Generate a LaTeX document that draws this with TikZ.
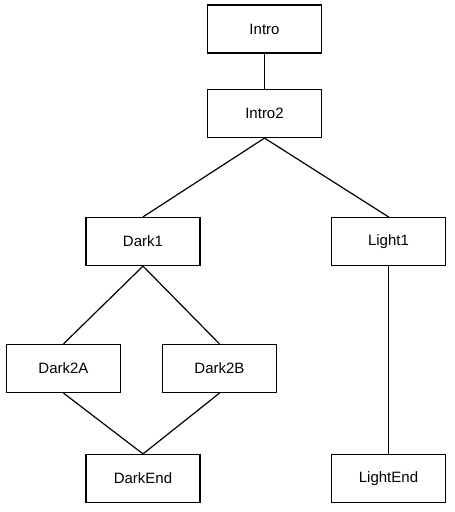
\documentclass[tikz,border=0pt]{standalone}
\usepackage{fontspec}
\setmainfont{Liberation Sans}

\begin{document}
\begin{tikzpicture}[x=1pt, y=-1pt, line width=1.2pt,
        box/.style={draw, minimum width=114pt, minimum height=48pt, inner sep=0pt,
                    font=\fontsize{15}{17}\selectfont}]
        \useasboundingbox (0,0) rectangle (455,512);
        \node[box] (intro)    at (264.5, 29)   {Intro};
        \node[box] (intro2)   at (264.5, 113.5) {Intro2};
        \node[box] (dark1)    at (143, 241.5)  {Dark1};
        \node[box] (light1)   at (388.5, 241.5) {Light1};
        \node[box] (dark2a)   at (63.5, 368.5) {Dark2A};
        \node[box] (dark2b)   at (219.5, 368.5) {Dark2B};
        \node[box] (darkend)  at (143, 478.5)  {DarkEnd};
        \node[box] (lightend) at (388.5, 478.5) {LightEnd};
        \draw (intro.south) -- (intro2.north);
        \foreach \n in {dark1, light1} {
            \draw (intro2.south) -- (\n.north);
        }
        \foreach \n in {dark2a, dark2b} {
            \draw (dark1.south) -- (\n.north);
            \draw (\n.south) -- (darkend.north);
        }
        \draw (light1.south) -- (lightend.north);
    \end{tikzpicture}
\end{document}
